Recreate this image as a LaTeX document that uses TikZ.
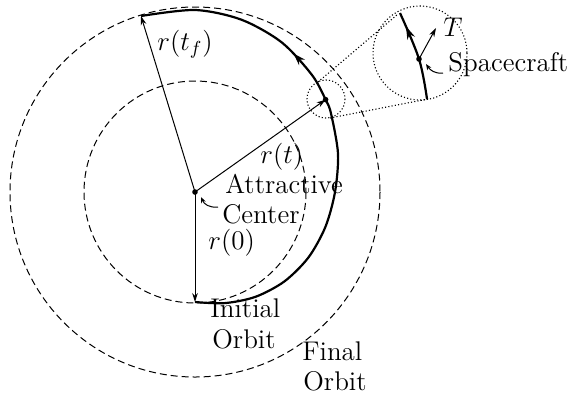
\RequirePackage{fix-cm}
\documentclass[tikz,border=0pt]{standalone}
\usetikzlibrary{arrows.meta,decorations.markings}
\begin{document}
\begin{tikzpicture}[x=0.5pt,y=-0.5pt,
  orbitline/.style={line width=0.5pt,dash pattern=on 3.5pt off 2pt},
  traj/.style={line width=1.1pt},
  radiusline/.style={line width=0.5pt,-{Stealth[length=4.5pt,width=2.8pt]}},
  zoomcirc/.style={line width=0.55pt,dash pattern=on 0.55pt off 1.1pt},
  lbl/.style={font=\fontsize{13.5}{16}\selectfont,inner sep=0pt},
  pointer/.style={line width=0.5pt,-{Stealth[length=3pt,width=2.4pt]}},
  dotnode/.style={circle,fill,inner sep=0pt,minimum size=2.8pt}]
\useasboundingbox (0,0) rectangle (571,393);

% key points
\coordinate (O)  at (195,192);
\coordinate (P0) at (195,302);
\coordinate (Pf) at (141,16);
\coordinate (S)  at (325.6,99.6);
\coordinate (Z1) at (326,99);
\coordinate (Z2) at (420,53);

% orbits
\draw[orbitline] (O) circle[radius=111];
\draw[orbitline] (O) circle[radius=185];

% trajectory
\draw[traj,postaction={decorate},decoration={markings,
   mark=at position 0.68 with {\arrow{Stealth[length=6pt,width=4pt]}}}]
  plot[smooth,tension=0.5] coordinates {(P0) (224.8,303.1) (255.5,296.8) (284.4,281.4)
   (308.4,257.5) (325.4,226.9) (335,192) (338,153.7) (331,113.5) (S) (312,75)
   (281.5,42.2) (241.2,19.6) (195,10) (Pf)};

% radii
\draw[radiusline] (O) -- (P0);
\draw[radiusline] (O) -- (Pf);
\draw[radiusline] (O) -- (S);
\node[dotnode] (center) at (O) {};
\node[dotnode] (sc) at (S) {};

% magnifier
\draw[zoomcirc] (Z1) circle[radius=19];
\draw[zoomcirc] (Z2) circle[radius=47];
\coordinate (ta1) at (318,82);
\coordinate (ta2) at (398,14);
\coordinate (tb1) at (330,118);
\coordinate (tb2) at (428,99);
\draw[zoomcirc] (ta1) -- (ta2);
\draw[zoomcirc] (tb1) -- (tb2);

% inset trajectory
\coordinate (mb) at (427,99);
\coordinate (mS) at (419,59);
\coordinate (mt) at (400,13);
\draw[traj,postaction={decorate},decoration={markings,
   mark=at position 0.84 with {\arrow{Stealth[length=6.5pt,width=4pt]}}}]
  plot[smooth,tension=0.6] coordinates {(mb) (mS) (mt)};
\node[dotnode] (msc) at (mS) {};
\coordinate (Tend) at (436,28);
\draw[radiusline] (mS) -- (Tend);

% labels
\node[lbl,anchor=base west] (rtf) at (157,50) {$r(t_f)$};
\node[lbl,anchor=base west] (rt) at (260,163) {$r(t)$};
\node[lbl,anchor=base west] (r0) at (208,249) {$r(0)$};
\node[lbl,anchor=base west] (attr) at (225,193) {Attractive};
\node[lbl,anchor=base west] (cent) at (222,223) {Center};
\node[lbl,anchor=base west] (ini1) at (210,317) {Initial};
\node[lbl,anchor=base west] (ini2) at (212,348) {Orbit};
\node[lbl,anchor=base west] (fin1) at (302,360) {Final};
\node[lbl,anchor=base west] (fin2) at (303,390) {Orbit};
\node[lbl,anchor=base west] (tlab) at (443,36) {$T$};
\node[lbl,anchor=base west] (scl) at (448,71) {Spacecraft};

% pointers
\coordinate (pa) at (218,207);
\coordinate (pb) at (201,197);
\draw[pointer] (pa) .. controls (209,208) and (204,204) .. (pb);
\coordinate (pc) at (443,73);
\coordinate (pd) at (426,64);
\draw[pointer] (pc) .. controls (435,74) and (430,70) .. (pd);
\end{tikzpicture}
\end{document}
